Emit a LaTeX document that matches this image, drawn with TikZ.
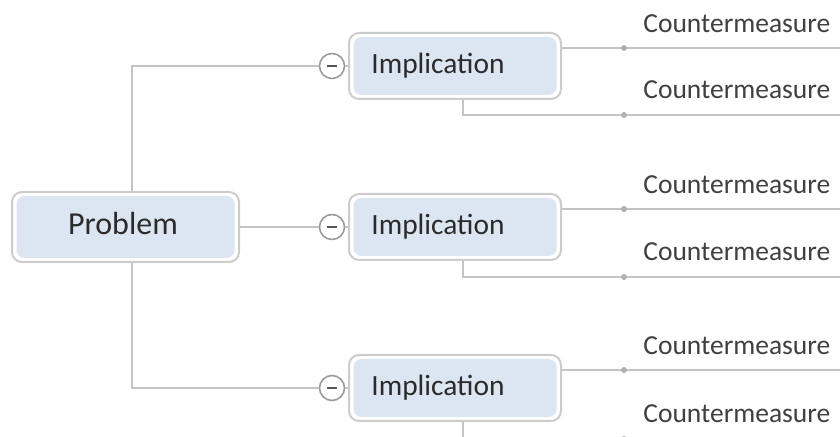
\documentclass[tikz,border=0pt]{standalone}
\usepackage{fontspec}
\setmainfont{Carlito}
\definecolor{boxfill}{HTML}{DCE6F2}
\definecolor{boxline}{HTML}{CCCCCC}
\definecolor{conline}{HTML}{C4C4C4}
\definecolor{txt}{HTML}{2B2B2B}
\definecolor{circline}{HTML}{9A9A9A}
\tikzset{
  outerbox/.style={draw=boxline, line width=1pt, fill=white, rounded corners=5pt, inner sep=0pt},
  innerbox/.style={fill=boxfill, rounded corners=4pt, inner sep=0pt, draw=none},
  conn/.style={draw=conline, line width=1pt},
  knob/.style={circle, draw=circline, line width=0.8pt, fill=white, minimum size=12.5pt, inner sep=0pt},
  cdot/.style={circle, fill=conline!90!black, minimum size=3pt, inner sep=0pt},
  bigtext/.style={font=\fontsize{16pt}{19pt}\selectfont, text=txt, inner sep=0pt},
  midtext/.style={font=\fontsize{14.7pt}{17pt}\selectfont, text=txt, inner sep=0pt},
  ctext/.style={font=\fontsize{13.75pt}{16pt}\selectfont, text=txt!90, inner sep=0pt},
}
\begin{document}
\begin{tikzpicture}[x=0.5pt, y=-0.5pt]
\useasboundingbox (0,0) rectangle (840,437);
\clip (0,0) rectangle (840,437);
% Problem box
\node[outerbox, minimum width=113.5pt, minimum height=35pt] (prob) at (125.5,227) {};
\node[innerbox, minimum width=109pt, minimum height=31pt] (probin) at (125.5,227) {};
\node[bigtext, anchor=base] (probt) at (123,235) {Problem};
% coordinates for the problem connector bends
\coordinate (pa) at (132,0);
% Implication boxes and knobs
\foreach \i/\y in {1/66, 2/227, 3/388} {
  \node[outerbox, minimum width=106pt, minimum height=33pt] (imp\i) at (455,\y) {};
  \node[innerbox, minimum width=101.5pt, minimum height=29pt] (impin\i) at (455,\y) {};
  \node[midtext, anchor=base west] (impt\i) at (371,\y+8) {Implication};
  \node[knob] (k\i) at (332,\y) {};
  \draw[txt!80, line width=1.1pt] ([xshift=-2.5pt]k\i.center) -- ([xshift=2.5pt]k\i.center);
}
% Problem to implications
\draw[conn] (prob.north -| pa) |- (k1.west);
\draw[conn] (prob.east) -- (k2.west);
\draw[conn] (prob.south -| pa) |- (k3.west);
\foreach \i in {1,2,3} {
  \draw[conn] (k\i.east) -- (imp\i.west);
}
% Countermeasure branches
\coordinate (bx) at (463,0);
\foreach \i/\ya/\yb in {1/48/115, 2/209/277, 3/370/439} {
  \coordinate (ea\i) at (840,\ya);
  \coordinate (eb\i) at (840,\yb);
  \draw[conn] (imp\i.east |- ea\i) -- (ea\i);
  \draw[conn] (imp\i.south -| bx) |- (eb\i);
  \node[cdot] (da\i) at (624,\ya) {};
  \node[cdot] (db\i) at (624,\yb) {};
  \node[ctext, anchor=base west] (ca\i) at (643,\ya-15) {Countermeasure};
  \node[ctext, anchor=base west] (cb\i) at (643,\yb-16) {Countermeasure};
}
\end{tikzpicture}
\end{document}
